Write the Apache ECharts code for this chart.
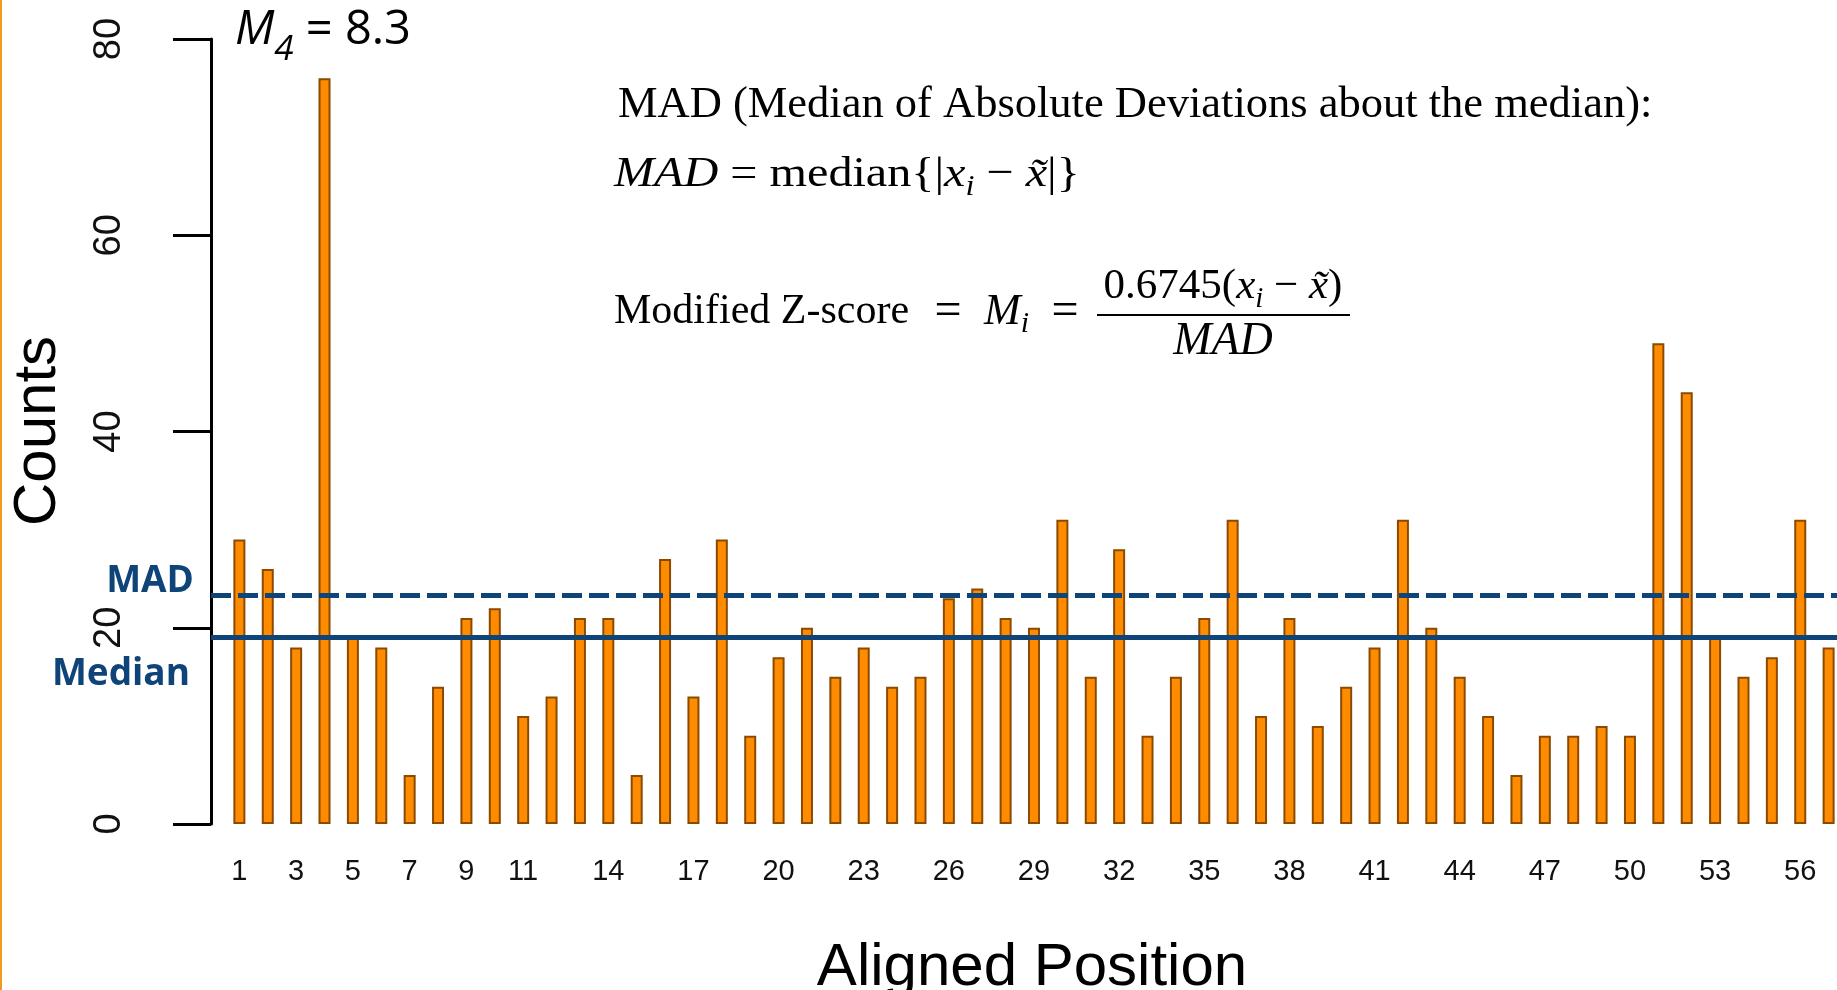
<!DOCTYPE html>
<html>
<head>
<meta charset="utf-8">
<script src="https://cdn.jsdelivr.net/npm/echarts@6/dist/echarts.min.js"></script>
<style>
  html, body { margin: 0; padding: 0; background: #ffffff; }
  #chart { width: 1837px; height: 990px; }
</style>
</head>
<body>
<div id="chart"></div>
<script>
// Aligned positions and read counts per position
const positions = [1, 2, 3, 4, 5, 6, 7, 8, 9, 10, 11, 12, 13, 14, 15, 16, 17, 18, 19, 20,
                   21, 22, 23, 24, 25, 26, 27, 28, 29, 30, 31, 32, 33, 34, 35, 36, 37, 38, 39, 40,
                   41, 42, 43, 44, 45, 46, 47, 48, 49, 50, 51, 52, 53, 54, 55, 56, 57];
const counts = [29, 26, 18, 76, 19, 18, 5, 14, 21, 22, 11, 13, 21, 21,
                5, 27, 13, 29, 9, 17, 20, 15, 18, 14, 15, 23, 24, 21, 20, 31, 15, 28, 9, 15, 21,
                31, 11, 21, 10, 14, 18, 31, 20, 15, 11, 5, 9, 9, 10, 9, 49, 44, 19, 15, 17, 31, 18];

// Tick labels shown under the bars and on the count axis
const xTickLabels = [1, 3, 5, 7, 9, 11, 14, 17, 20, 23, 26, 29, 32, 35, 38, 41, 44, 47, 50, 53, 56];
const yTickLabels = [0, 20, 40, 60, 80];

// Reference levels
const medianLevel = 19;
const madLevel = 23.3;

const NAVY = '#0f4479';
const SERIF = '"Liberation Serif", "Times New Roman", serif';
const SANS = '"Liberation Sans", Arial, Helvetica, sans-serif';
const CALI = '"Open Sans", "Noto Sans", sans-serif';

const chart = echarts.init(document.getElementById('chart'), null, { renderer: 'canvas' });

// rich styles for the formula block, at a given base size;
// subscripts sit at the bottom of a taller line box so they drop below the baseline
function mathRich(fs) {
  const lh = Math.round(fs * 1.25);
  const sub = Math.round(fs * 0.68);
  return {
    r: { fontFamily: SERIF, fontSize: fs, lineHeight: lh, verticalAlign: 'middle', color: '#000' },
    i: { fontFamily: SERIF, fontSize: fs, fontStyle: 'italic', lineHeight: lh, verticalAlign: 'middle', color: '#000' },
    s: { fontFamily: SERIF, fontSize: sub, fontStyle: 'italic', verticalAlign: 'bottom', color: '#000' }
  };
}

function mathText(x, y, text, fs, align, scaleX) {
  return {
    type: 'text', x: x, y: y, scaleX: scaleX || 1,
    style: {
      text: text, font: fs + 'px ' + SERIF, fill: '#000',
      align: align || 'left', verticalAlign: 'middle', rich: mathRich(fs)
    }
  };
}

const option = {
  animation: false,
  backgroundColor: '#ffffff',
  grid: {
    left: 211, right: -20, top: 39, bottom: 166,
    containLabel: false, outerBoundsMode: 'none'
  },
  xAxis: {
    type: 'value',
    min: 0, max: 58,
    axisLine: { show: false },
    axisTick: { show: false },
    splitLine: { show: false },
    axisLabel: {
      customValues: xTickLabels,
      fontFamily: SANS, fontSize: 29, color: '#111',
      margin: 33
    }
  },
  yAxis: {
    type: 'value',
    min: yTickLabels[0], max: yTickLabels[yTickLabels.length - 1], interval: 20,
    axisLine: { show: true, lineStyle: { color: '#000', width: 3 } },
    axisTick: { show: true, length: 38, lineStyle: { color: '#000', width: 3 } },
    splitLine: { show: false },
    axisLabel: {
      rotate: 90,
      fontFamily: SANS, fontSize: 38, color: '#111',
      margin: 82
    }
  },
  series: [{
    type: 'bar',
    data: positions.map((p, k) => [p, counts[k]]),
    barWidth: 12,
    itemStyle: { color: '#ff8c00', borderColor: '#8b4a00', borderWidth: 2 },
    markLine: {
      silent: true,
      symbol: ['none', 'none'],
      label: { show: false },
      lineStyle: { color: NAVY, width: 5 },
      data: [
        { yAxis: medianLevel, lineStyle: { type: 'solid', color: NAVY, width: 5 } },
        { yAxis: madLevel, lineStyle: { type: [20, 7], color: NAVY, width: 5 } }
      ]
    }
  }],
  graphic: [
    // orange frame edge on the left
    { type: 'rect', shape: { x: 0, y: 0, width: 2, height: 990 }, style: { fill: '#f39a1e' } },
    // axis titles
    {
      type: 'text', x: 38, y: 431, rotation: Math.PI / 2,
      style: { text: 'Counts', font: '60px ' + SANS, fill: '#000', align: 'center', verticalAlign: 'middle' }
    },
    {
      type: 'text', x: 1032, y: 968,
      style: { text: 'Aligned Position', font: '60px ' + SANS, fill: '#000', align: 'center', verticalAlign: 'middle' }
    },
    // modified z-score of position 4
    {
      type: 'text', x: 235, y: 31,
      style: {
        text: '{m|M}{s|4}{r| = 8.3}',
        align: 'left', verticalAlign: 'middle',
        rich: {
          m: { fontFamily: CALI, fontSize: 47, fontStyle: 'italic', lineHeight: 74, verticalAlign: 'middle', color: '#000' },
          s: { fontFamily: CALI, fontSize: 35, fontStyle: 'italic', verticalAlign: 'bottom', color: '#000' },
          r: { fontFamily: CALI, fontSize: 47, lineHeight: 74, verticalAlign: 'middle', color: '#000' }
        }
      }
    },
    // reference line labels
    {
      type: 'text', x: 194, y: 581,
      style: { text: 'MAD', font: 'bold 37px ' + CALI, fill: NAVY, align: 'right', verticalAlign: 'middle' }
    },
    {
      type: 'text', x: 190, y: 674,
      style: { text: 'Median', font: 'bold 37px ' + CALI, fill: NAVY, align: 'right', verticalAlign: 'middle' }
    },
    // formula block
    {
      type: 'text', x: 618, y: 105,
      style: { text: 'MAD (Median of Absolute Deviations about the median):', font: '44.5px ' + SERIF, fill: '#000', align: 'left', verticalAlign: 'middle' }
    },
    mathText(614, 175, '{i|MAD}{r| = median{|}{i|x}{s|i}{r| \u2212 }{i|x\u0303}{r||}}', 43, 'left', 1.12),
    mathText(614, 312, '{r|Modified Z-score}', 42),
    mathText(948, 312, '{r|=}', 48, 'center'),
    mathText(984, 312, '{i|M}{s|i}', 44),
    mathText(1065, 312, '{r|=}', 48, 'center'),
    mathText(1223, 287, '{r|0.6745(}{i|x}{s|i}{r| \u2212 }{i|x\u0303}{r|)}', 43, 'center'),
    { type: 'line', shape: { x1: 1097, y1: 315, x2: 1350, y2: 315 }, style: { stroke: '#000', lineWidth: 2 } },
    mathText(1223, 342, '{i|MAD}', 46, 'center')
  ]
};

chart.setOption(option);
</script>
</body>
</html>
